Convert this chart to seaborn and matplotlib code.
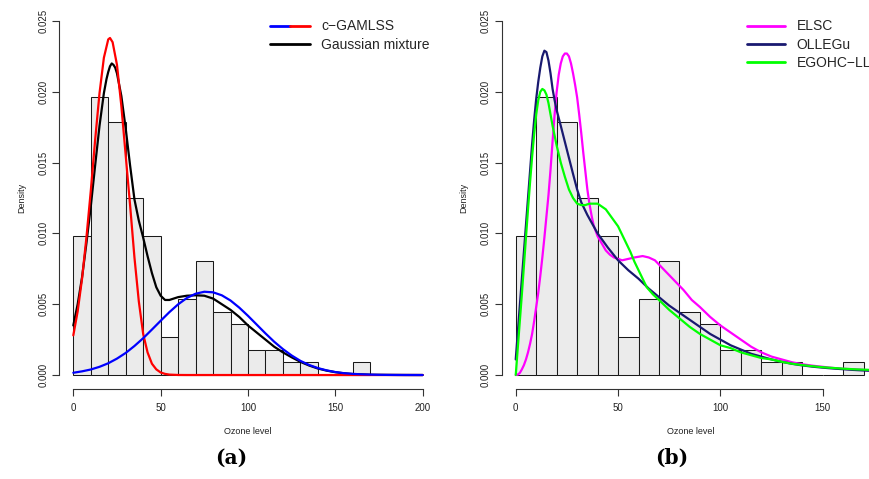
import matplotlib
matplotlib.use("Agg")
import numpy as np
import matplotlib.pyplot as plt
from matplotlib.lines import Line2D
from matplotlib.legend_handler import HandlerTuple
import seaborn as sns

sns.set_theme(style="white")
plt.rcParams["font.family"] = ["Liberation Sans", "DejaVu Sans"]

# Ozone histogram: bin edges (width 10) and observation counts per bin
bin_edges = [0, 10, 20, 30, 40, 50, 60, 70, 80, 90, 100, 110, 120, 130, 140, 150, 160, 170]
bin_counts = [11, 22, 20, 14, 11, 3, 6, 9, 5, 4, 2, 2, 1, 1, 0, 0, 1]

# (a) c-GAMLSS components and the Gaussian mixture density
gam1_x = [0, 2.5, 5, 7.5, 10, 12.5, 15, 17.5, 20, 21, 22.5, 25, 27.5, 30, 32.5, 35, 37.5,
          40, 42.5, 45, 47.5, 50, 52.5, 55, 60, 65, 200]
gam1_y = [0.0028, 0.0045, 0.0068, 0.0097, 0.0130, 0.0166, 0.0199, 0.0224, 0.0237, 0.0238,
          0.0235, 0.0219, 0.0190, 0.0155, 0.0120, 0.0083, 0.0052, 0.0029, 0.0016, 0.0008,
          0.0004, 0.00018, 0.00008, 0.00003, 0.000004, 0, 0]

gam2_x = list(range(0, 205, 5))
gam2_y = [0.00016, 0.00026, 0.00039, 0.00058, 0.00083, 0.00116, 0.00156, 0.00205, 0.0026,
          0.00321, 0.00383, 0.00444, 0.00499, 0.00544, 0.00574, 0.00588, 0.00584, 0.00563,
          0.00526, 0.00476, 0.00418, 0.00356, 0.00294, 0.00235, 0.00183, 0.00138, 0.00100,
          0.00071, 0.00049, 0.00033, 0.00021, 0.00013, 0.00008, 0.00005, 0.00003, 0.000015,
          0.000008, 0.000004, 0.000002, 0.000001, 0]

mix_x = [0, 2.5, 5, 7.5, 10, 12.5, 15, 17.5, 19, 20, 21, 22, 23, 24, 25, 27.5, 30, 32.5, 35,
         37.5, 40, 42.5, 45, 47.5, 50, 52.5, 55, 57.5, 60, 65, 70, 75, 80, 85, 90, 95, 100,
         105, 110, 115, 120, 125, 130, 135, 140, 145, 150, 155, 160, 170, 180, 190, 200]
mix_y = [0.0035, 0.0050, 0.0069, 0.0093, 0.0119, 0.0148, 0.0176, 0.0199, 0.0209, 0.0214,
         0.0218, 0.0220, 0.0219, 0.0217, 0.0213, 0.0197, 0.0174, 0.0148, 0.0124, 0.0109,
         0.0097, 0.0084, 0.0072, 0.0062, 0.0056, 0.0053, 0.0053, 0.0054, 0.0055, 0.0056,
         0.00563, 0.0056, 0.0054, 0.0050, 0.0046, 0.0041, 0.0035, 0.0030, 0.0025, 0.0020,
         0.0016, 0.00125, 0.00093, 0.00067, 0.00046, 0.00031, 0.0002, 0.00012, 0.00007,
         0.00002, 0.00001, 0.000003, 0]

# (b) competing fitted densities
elsc_x = [0, 1, 2, 3, 4, 5, 6, 7, 8, 9, 10, 11, 12, 13, 14, 15, 16, 17, 18, 19, 20, 21, 22,
          23, 24, 25, 26, 27, 28, 29, 30, 31, 32, 33, 34, 35, 36, 37, 38, 40, 42, 44, 46, 48,
          50, 52, 55, 58, 62, 65, 68, 70, 74, 78, 82, 86, 90, 95, 100, 105, 110, 115, 120,
          125, 130, 135, 140, 145, 150, 155, 160, 165, 170, 175, 180]
elsc_y = [0, 0.00003, 0.00015, 0.0004, 0.0007, 0.0011, 0.0016, 0.0022, 0.0029, 0.0038,
          0.0048, 0.0058, 0.0070, 0.0083, 0.0097, 0.0112, 0.0127, 0.0145, 0.0165, 0.0184,
          0.0200, 0.0212, 0.0220, 0.0225, 0.0227, 0.0227, 0.0225, 0.0220, 0.0213, 0.0205,
          0.0196, 0.0184, 0.0171, 0.0157, 0.0144, 0.0131, 0.0121, 0.0113, 0.0106, 0.0098,
          0.0093, 0.0088, 0.0085, 0.0083, 0.0082, 0.0081, 0.0082, 0.0083, 0.0084, 0.0083,
          0.0081, 0.0078, 0.0072, 0.0066, 0.0060, 0.0053, 0.0048, 0.0041, 0.0035, 0.0030,
          0.0025, 0.0020, 0.0016, 0.0013, 0.0011, 0.0009, 0.00076, 0.00066, 0.00058, 0.0005,
          0.00044, 0.0004, 0.00036, 0.00032, 0.0003]

ollegu_x = [0, 1, 2, 3, 4, 5, 6, 7, 8, 9, 10, 11, 12, 13, 14, 15, 16, 17, 18, 19, 20, 22, 25,
            28, 30, 32, 35, 40, 45, 50, 55, 60, 65, 70, 75, 80, 85, 90, 95, 100, 105, 110,
            115, 120, 125, 130, 135, 140, 145, 150, 155, 160, 165, 170, 175, 180]
ollegu_y = [0.0011, 0.0030, 0.0049, 0.0068, 0.0087, 0.0106, 0.0125, 0.0144, 0.0163, 0.0180,
            0.0195, 0.0207, 0.0217, 0.0225, 0.0229, 0.0228, 0.0222, 0.0213, 0.0202, 0.0194,
            0.0187, 0.0176, 0.0159, 0.0142, 0.0131, 0.0122, 0.0113, 0.0100, 0.0090, 0.0081,
            0.0074, 0.0068, 0.0061, 0.0055, 0.0049, 0.0044, 0.0039, 0.0034, 0.0029, 0.0025,
            0.0021, 0.0018, 0.0015, 0.0013, 0.0011, 0.00093, 0.00079, 0.00068, 0.00059,
            0.00052, 0.00046, 0.00041, 0.00036, 0.00032, 0.00029, 0.00026]

egohc_x = [0, 1, 2, 3, 4, 5, 6, 7, 8, 9, 10, 11, 12, 13, 14, 15, 16, 17, 18, 20, 22, 24, 26,
           28, 30, 32, 34, 36, 38, 40, 42, 44, 46, 48, 50, 52, 54, 56, 58, 60, 62, 64, 67, 70,
           75, 80, 85, 90, 95, 100, 105, 110, 115, 120, 125, 130, 135, 140, 145, 150, 155, 160,
           165, 170, 175, 180]
egohc_y = [0, 0.0019, 0.0038, 0.0057, 0.0077, 0.0097, 0.0117, 0.0136, 0.0154, 0.0170, 0.0184,
           0.0194, 0.0200, 0.0202, 0.0201, 0.0198, 0.0192, 0.0184, 0.0176, 0.0162, 0.0150,
           0.0140, 0.0131, 0.0125, 0.0121, 0.0120, 0.0120, 0.0121, 0.0121, 0.0121, 0.0119,
           0.0117, 0.0113, 0.0109, 0.0105, 0.0099, 0.0093, 0.0087, 0.0080, 0.0074, 0.0068,
           0.0062, 0.0057, 0.0053, 0.0046, 0.0040, 0.0034, 0.0029, 0.0025, 0.0021, 0.0019,
           0.0016, 0.0014, 0.0012, 0.0011, 0.00093, 0.0008, 0.0007, 0.00062, 0.00055, 0.0005,
           0.00045, 0.00041, 0.00038, 0.00035, 0.00033]

y_ticks = [0.000, 0.005, 0.010, 0.015, 0.020, 0.025]
y_tick_labels = ["0.000", "0.005", "0.010", "0.015", "0.020", "0.025"]
x_ticks_a = [0, 50, 100, 150, 200]
x_ticks_b = [0, 50, 100, 150]

LW = 1.6
fig = plt.figure(figsize=(8.7, 4.79), dpi=100)
ax_a = fig.add_axes([0.0682, 0.1875, 0.4337, 0.7983])
ax_b = fig.add_axes([0.5767, 0.1875, 0.4345, 0.7983])


def draw_hist(ax):
    mids = np.array(bin_edges[:-1]) + 5
    sns.histplot(x=mids, weights=bin_counts, bins=bin_edges, stat="density",
                 color="#ebebeb", edgecolor="#1a1a1a", linewidth=0.75, alpha=1.0, ax=ax)


def style_axes(ax, xticks, xlim):
    ax.set_xlim(*xlim)
    ax.set_ylim(-0.001, 0.026)
    for s in ("top", "right"):
        ax.spines[s].set_visible(False)
    for s in ("left", "bottom"):
        ax.spines[s].set_color("#333333")
        ax.spines[s].set_linewidth(0.8)
    ax.spines["left"].set_bounds(0, 0.025)
    ax.spines["bottom"].set_bounds(xticks[0], xticks[-1])
    ax.set_xticks(xticks)
    ax.set_xticklabels([str(t) for t in xticks])
    ax.set_yticks(y_ticks)
    ax.set_yticklabels(y_tick_labels, rotation=90, va="center")
    ax.tick_params(axis="both", which="major", direction="out", length=5, width=0.8,
                   color="#333333", labelsize=7, labelcolor="#222222",
                   bottom=True, left=True)
    ax.tick_params(axis="x", pad=5)
    ax.tick_params(axis="y", pad=3)
    ax.set_xlabel("Ozone level", fontsize=6.5, color="#222222")
    ax.set_ylabel("Density", fontsize=6.5, color="#222222")
    ax.xaxis.set_label_coords(0.5, -0.111)
    ax.xaxis.label.set_verticalalignment("center")
    ax.yaxis.set_label_coords(-0.0997, 0.5)
    ax.yaxis.label.set_verticalalignment("center")
    ax.grid(False)


# ---- panel (a)
draw_hist(ax_a)
sns.lineplot(x=mix_x, y=mix_y, color="black", linewidth=LW, ax=ax_a, estimator=None)
sns.lineplot(x=gam1_x, y=gam1_y, color="#ff0000", linewidth=LW, ax=ax_a, estimator=None)
sns.lineplot(x=gam2_x, y=gam2_y, color="#0000ff", linewidth=LW, ax=ax_a, estimator=None)
style_axes(ax_a, x_ticks_a, (-8, 208))

h_blue = Line2D([], [], color="#0000ff", linewidth=2.0)
h_red = Line2D([], [], color="#ff0000", linewidth=2.0)
h_black = Line2D([], [], color="black", linewidth=2.0)
ax_a.legend([(h_blue, h_red), h_black], ["c\u2212GAMLSS", "Gaussian mixture"],
            handler_map={tuple: HandlerTuple(ndivide=None, pad=0)},
            loc="upper left", bbox_to_anchor=(270 / 870, 1 - 19.5 / 479),
            bbox_transform=fig.transFigure, frameon=False, borderpad=0,
            borderaxespad=0, handlelength=2.85, handletextpad=0.84,
            labelspacing=0.31, fontsize=10)

# ---- panel (b)
draw_hist(ax_b)
sns.lineplot(x=elsc_x, y=elsc_y, color="#ff00ff", linewidth=LW, ax=ax_b, estimator=None)
sns.lineplot(x=ollegu_x, y=ollegu_y, color="#191970", linewidth=LW, ax=ax_b, estimator=None)
sns.lineplot(x=egohc_x, y=egohc_y, color="#00ff00", linewidth=LW, ax=ax_b, estimator=None)
style_axes(ax_b, x_ticks_b, (-6.84, 177.84))

ax_b.legend([Line2D([], [], color=c, linewidth=2.0) for c in ("#ff00ff", "#191970", "#00ff00")],
            ["ELSC", "OLLEGu", "EGOHC\u2212LL"],
            loc="upper left", bbox_to_anchor=(746.7 / 870, 1 - 19.5 / 479),
            bbox_transform=fig.transFigure, frameon=False, borderpad=0,
            borderaxespad=0, handlelength=2.75, handletextpad=0.84,
            labelspacing=0.31, fontsize=10)

# panel tags
for label, xc in (("(a)", 231), ("(b)", 672)):
    fig.text(xc / 870, 1 - 458 / 479, label, family="DejaVu Serif", fontweight="bold",
             fontsize=14.5, ha="center", va="center", color="black")

fig.savefig("out.png", dpi=100)
